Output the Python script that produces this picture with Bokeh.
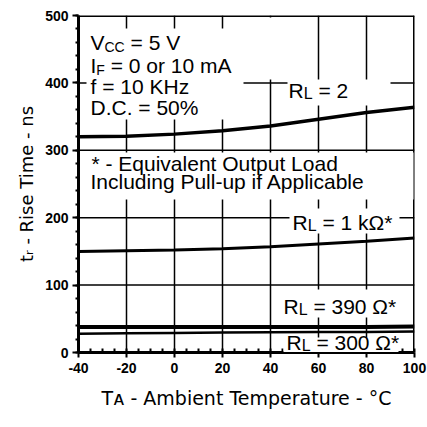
import math
from bokeh.plotting import figure
from bokeh.models import Range1d, FixedTicker, Label, BoxAnnotation, Span, Title
from bokeh.embed import file_html
from bokeh.resources import INLINE

# ---------------- data ----------------
temps = [-40, -20, 0, 20, 40, 60, 80, 100]
rise_rl_2 = [320, 321, 324, 329, 336, 346, 356, 364]
rise_rl_1k = [150, 151, 152, 154, 157, 161, 165, 170]
rise_rl_390 = [38, 38, 38, 38, 38, 38, 38, 38.5]
rise_rl_300 = [28, 28.5, 29, 29.5, 30, 30.5, 30.5, 31]

x_ticks = [-40, -20, 0, 20, 40, 60, 80, 100]
x_tick_labels = ["-40", "-20", "0", "20", "40", "60", "80", "100"]
x_minor = list(range(-40, 101, 5))
y_ticks = [0, 100, 200, 300, 400, 500]
y_minor = list(range(0, 501, 20))

x_title = "T\u1d00 - Ambient Temperature - \u00b0C"
y_title = "t\u1d63 - Rise Time - ns"

FONT = "Liberation Sans"
TITLE_FONT = "DejaVu Sans"

# ---------------- figure ----------------
p = figure(width=427, height=427, x_range=Range1d(-40, 100), y_range=Range1d(0, 500),
           output_backend="svg", toolbar_location=None,
           min_border_left=78, min_border_right=13, min_border_top=15, min_border_bottom=75)
p.outline_line_color = None
p.grid.visible = False

p.xaxis.ticker = FixedTicker(ticks=x_ticks, minor_ticks=x_minor)
p.xaxis.major_label_overrides = {t: s for t, s in zip(x_ticks, x_tick_labels)}
p.yaxis.ticker = FixedTicker(ticks=y_ticks, minor_ticks=y_minor)
for ax in (p.xaxis[0], p.yaxis[0]):
    ax.axis_line_width = 3
    ax.axis_line_color = "black"
    ax.major_tick_line_width = 2
    ax.major_tick_line_color = "black"
    ax.minor_tick_line_width = 2
    ax.minor_tick_line_color = "black"
    ax.major_tick_in = 0
    ax.major_label_text_font = FONT
    ax.major_label_text_font_size = "14px"
    ax.major_label_text_font_style = "bold"
    ax.major_label_text_color = "black"
p.xaxis.major_tick_out = 5
p.xaxis.minor_tick_in = 4
p.xaxis.minor_tick_out = 0
p.xaxis.major_label_standoff = 5
p.yaxis.major_tick_out = 6
p.yaxis.minor_tick_out = 3
p.yaxis.minor_tick_in = 0
p.yaxis.major_label_standoff = 4

# axis titles as side-panel titles
p.add_layout(Title(text=x_title, align="center", text_font=TITLE_FONT, text_font_size="19px",
                   text_font_style="normal", text_color="black", standoff=18), "below")
p.add_layout(Title(text=y_title, align="center", text_font=TITLE_FONT, text_font_size="18px",
                   text_font_style="normal", text_color="black", standoff=12), "left")

# curves
p.line(temps, rise_rl_2, line_width=3.5, line_color="black")
p.line(temps, rise_rl_1k, line_width=3, line_color="black")
p.line(temps, rise_rl_390, line_width=4, line_color="black")
p.line(temps, rise_rl_300, line_width=2.5, line_color="black")

# grid lines at the tick values, then frame edges
for t in x_ticks[1:-1]:
    p.add_layout(Span(location=t, dimension="height", line_color="black", line_width=1.5))
for t in y_ticks[1:-1]:
    p.add_layout(Span(location=t, dimension="width", line_color="black", line_width=1.5))
p.add_layout(Span(location=y_ticks[-1], dimension="width", line_color="black", line_width=3))
p.add_layout(Span(location=x_ticks[-1], dimension="height", line_color="black", line_width=3))

# ---------------- helpers (page pixel -> data) ----------------
def dx(px):
    return -40 + (px - 78) * 140 / 336

def dy(py):
    return (352 - py) * 500 / 337

def box(l, r, t, b):
    p.add_layout(BoxAnnotation(left=dx(l), right=dx(r), top=dy(t), bottom=dy(b),
                               fill_color="white", fill_alpha=1.0,
                               line_color=None, line_alpha=0))

AW = {' ': 278, '-': 333, '=': 584, '*': 389, '%': 889, '.': 278,
      '0': 556, '1': 556, '2': 556, '3': 556, '5': 556, '9': 556,
      'A': 667, 'C': 722, 'D': 722, 'F': 611, 'H': 722, 'I': 278, 'K': 667,
      'L': 556, 'O': 778, 'P': 667, 'R': 722, 'T': 611, 'V': 667, 'E': 667,
      'a': 556, 'b': 556, 'c': 500, 'd': 556, 'e': 556, 'f': 278, 'g': 556,
      'i': 222, 'k': 500, 'l': 222, 'm': 833, 'n': 556, 'o': 556, 'p': 556,
      'q': 556, 'r': 333, 's': 500, 't': 278, 'u': 556, 'v': 500, 'z': 500,
      'Ω': 768}

def tw(s, size):
    return sum(AW.get(c, 556) for c in s) * size / 1000

def rich(px, py, parts):
    off = 0.0
    for text, size, shift in parts:
        lead = len(text) - len(text.lstrip(" "))
        off += tw(text[:lead], size)
        body = text[lead:]
        lab = Label(x=dx(px), y=dy(py), x_offset=off, y_offset=0.35 * size - shift, text=body)
        lab.text_font = FONT
        lab.text_font_size = f"{size}px"
        lab.text_baseline = "alphabetic"
        lab.text_align = "left"
        lab.text_color = "black"
        p.add_layout(lab)
        off += tw(body, size)

# white areas behind texts
box(86, 243, 28, 119)
box(243, 287, 17, 79)
box(287, 390, 79, 105)
box(80, 413, 152, 199)
box(289, 399, 208, 233)
box(280, 401, 289, 317)
box(283, 398, 337, 351.5)

# condition block
rich(90, 49, [("V", 21, 0), ("CC", 14, 2), (" = 5 V", 21, 0)])
rich(90, 72, [("I", 21, 0), ("F", 14, 2), (" = 0 or 10 mA", 21, 0)])
rich(90, 93, [("f = 10 KHz", 21, 0)])
rich(90, 114, [("D.C. = 50%", 21, 0)])

# note
rich(91, 170, [("* - Equivalent Output Load", 21, 0)])
rich(90, 188, [("Including Pull-up if Applicable", 21, 0)])

# curve labels
rich(288, 97, [("R", 21, 0), ("L", 16, 2), (" = 2", 21, 0)])
rich(292, 229, [("R", 21, 0), ("L", 16, 2), (" = 1 kΩ*", 21, 0)])
rich(283, 313, [("R", 21, 0), ("L", 16, 2), (" = 390 Ω*", 21, 0)])
rich(286, 349, [("R", 21, 0), ("L", 16, 2), (" = 300 Ω*", 21, 0)])

open("out.html", "w").write(file_html(p, INLINE))
